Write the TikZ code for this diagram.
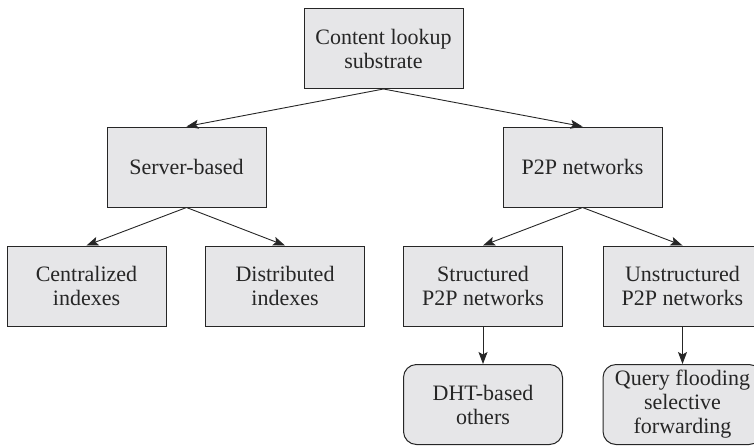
\documentclass[tikz,border=0pt]{standalone}
\usepackage{fontspec}
\setmainfont{Liberation Serif}
\usetikzlibrary{arrows.meta}
\definecolor{boxgray}{HTML}{E6E6E8}
\definecolor{inkgray}{HTML}{262626}
\begin{document}
\begin{tikzpicture}[x=1pt, y=-1pt,
  box/.style={draw=inkgray, fill=boxgray, line width=1pt,
    minimum width=159pt, minimum height=80pt, inner sep=0pt,
    align=center, text=inkgray, font=\fontsize{22}{24}\selectfont},
  rbox/.style={box, rounded corners=13pt},
  link/.style={-{Stealth[length=12pt, width=9pt, inset=2.5pt]},
    line width=0.9pt, draw=inkgray}]
  \useasboundingbox (0,0) rectangle (754,447);

  % hierarchy of content lookup approaches
  \node[box] (root) at (383.5,48.5) {Content lookup\\substrate};
  \node[box] (server) at (186.5,167) {Server-based};
  \node[box] (p2p) at (582.5,167) {P2P networks};
  \node[box] (central) at (86.5,286) {Centralized\\indexes};
  \node[box] (distrib) at (285,286) {Distributed\\indexes};
  \node[box] (struct) at (483,286) {Structured\\P2P networks};
  \node[box] (unstruct) at (682.5,286) {Unstructured\\P2P networks};
  \node[rbox] (dht) at (483,404.5) {DHT-based\\others};
  \node[rbox] (flood) at (682.5,404.5) {Query flooding\\selective\\forwarding};

  \draw[link] (root.south) -- (server.north);
  \draw[link] (root.south) -- (p2p.north);
  \draw[link] (server.south) -- (central.north);
  \draw[link] (server.south) -- (distrib.north);
  \draw[link] (p2p.south) -- (struct.north);
  \draw[link] (p2p.south) -- (unstruct.north);
  \draw[link] (struct.south) -- (dht.north);
  \draw[link] (unstruct.south) -- (flood.north);
\end{tikzpicture}
\end{document}
